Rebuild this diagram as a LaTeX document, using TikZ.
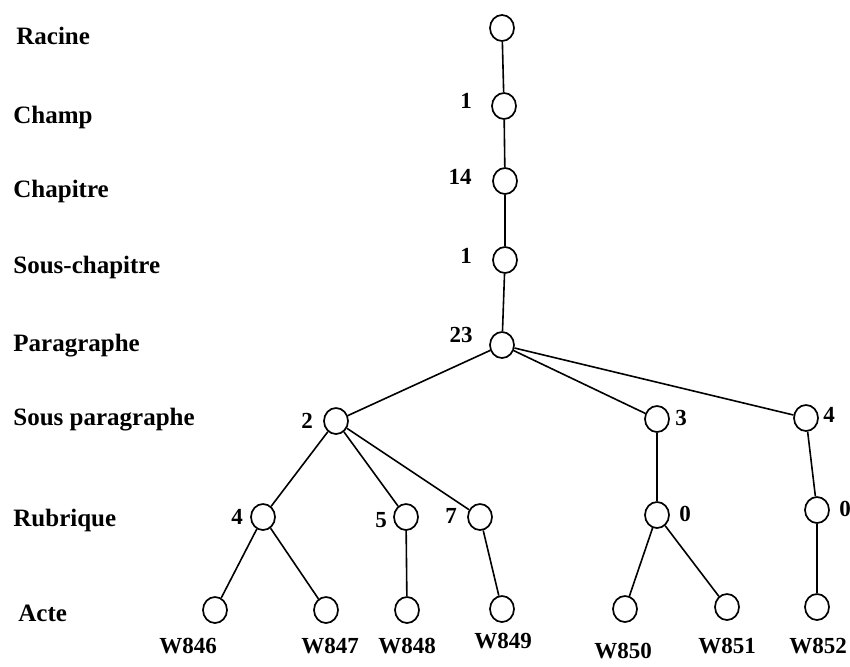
\documentclass[tikz,border=0pt]{standalone}
\usepackage{fontspec}
\setmainfont{Liberation Serif}
\usepackage{tikz}
\usetikzlibrary{shapes.geometric, positioning}

\begin{document}
\begin{tikzpicture}[
  x=0.5pt, y=-0.5pt,
  every node/.style = {font=\bfseries},
  vertex/.style = {
    ellipse, draw, line width=0.85pt,
    minimum width=12pt, minimum height=13pt, inner sep=0pt
  },
  edge/.style   = {line width=0.8pt},
  level/.style  = {anchor=base west, inner sep=0pt,
                   font=\fontsize{12.5}{15}\selectfont\bfseries},
  count/.style  = {font=\fontsize{11.5}{14}\selectfont\bfseries},
  acte/.style   = {anchor=base, font=\fontsize{11.5}{14}\selectfont\bfseries},
]
\useasboundingbox (0,0) rectangle (850,666);

% Level names
\node[level] (lracine)   at (16,44)  {Racine};
\node[level] (lchamp)    at (13,123) {Champ};
\node[level] (lchap)     at (13,197) {Chapitre};
\node[level] (lsouschap) at (13,273) {Sous-chapitre};
\node[level] (lpara)     at (13,351) {Paragraphe};
\node[level] (lsouspara) at (13,425) {Sous paragraphe};
\node[level] (lrub)      at (13,526) {Rubrique};
\node[level] (lacte)     at (18,621) {Acte};

% Main branch
\node[vertex] (root)     at (502,28)  {};
\node[vertex] (champ)    at (504,106) {};
\node[vertex] (chap)     at (505,181) {};
\node[vertex] (souschap) at (505,260) {};
\node[vertex] (para)     at (502,345) {};

% Sous paragraphes
\node[vertex] (sp2) at (336,421) {};
\node[vertex] (sp3) at (657,419) {};
\node[vertex] (sp4) at (806,418) {};

% Rubriques
\node[vertex] (rub4)  at (263,517) {};
\node[vertex] (rub5)  at (406,517) {};
\node[vertex] (rub7)  at (480,517) {};
\node[vertex] (rub0a) at (657,515) {};
\node[vertex] (rub0b) at (817,510) {};

% Actes
\node[vertex] (a846) at (215,610) {};
\node[vertex] (a847) at (326,610) {};
\node[vertex] (a848) at (407,610) {};
\node[vertex] (a849) at (502,609) {};
\node[vertex] (a850) at (625,609) {};
\node[vertex] (a851) at (727,607) {};
\node[vertex] (a852) at (817,607) {};

% Counts
\node[count] (nchamp)    at (466,101) {1};
\node[count] (nchap)     at (460,177) {14};
\node[count] (nsouschap) at (466,256) {1};
\node[count] (npara)     at (461,335) {23};
\node[count] (nsp2)      at (307,421) {2};
\node[count] (nsp3)      at (681,418) {3};
\node[count] (nsp4)      at (829,415) {4};
\node[count] (nrub4)     at (237,517) {4};
\node[count] (nrub5)     at (381,520) {5};
\node[count] (nrub7)     at (451,516) {7};
\node[count] (nrub0a)    at (685,514) {0};
\node[count] (nrub0b)    at (845,509) {0};

% Acte names
\node[acte] (w846) at (188,653) {W846};
\node[acte] (w847) at (330,653) {W847};
\node[acte] (w848) at (407,653) {W848};
\node[acte] (w849) at (503,648) {W849};
\node[acte] (w850) at (623,658) {W850};
\node[acte] (w851) at (727,653) {W851};
\node[acte] (w852) at (818,653) {W852};

% Edges
\draw[edge] (root) -- (champ);
\draw[edge] (champ) -- (chap);
\draw[edge] (chap) -- (souschap);
\draw[edge] (souschap) -- (para);
\draw[edge] (para) -- (sp2);
\draw[edge] (para) -- (sp3);
\draw[edge] (para) -- (sp4);
\draw[edge] (sp2) -- (rub4);
\draw[edge] (sp2) -- (rub5);
\draw[edge] (sp2) -- (rub7);
\draw[edge] (sp3) -- (rub0a);
\draw[edge] (sp4) -- (rub0b);
\draw[edge] (rub4) -- (a846);
\draw[edge] (rub4) -- (a847);
\draw[edge] (rub5) -- (a848);
\draw[edge] (rub7) -- (a849);
\draw[edge] (rub0a) -- (a850);
\draw[edge] (rub0a) -- (a851);
\draw[edge] (rub0b) -- (a852);

\end{tikzpicture}
\end{document}
